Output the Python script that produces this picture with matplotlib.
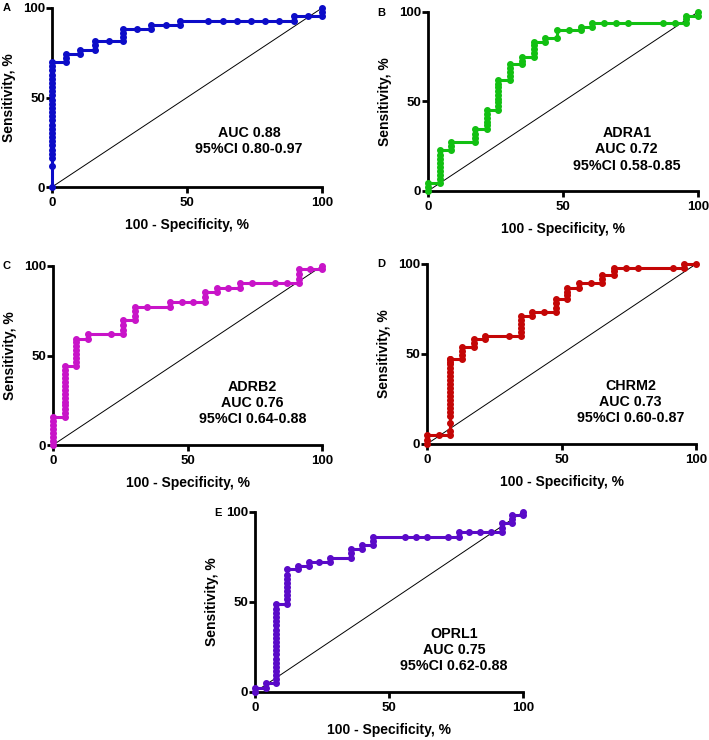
import matplotlib
matplotlib.use('Agg')
import matplotlib.pyplot as plt

plt.rcParams['font.family'] = ['Liberation Sans', 'DejaVu Sans']

# ---------------- data (100 - specificity, sensitivity) ----------------
a_fpr = [0, 0, 0, 0, 0, 0, 0, 0, 0, 0, 0, 0, 0, 0, 0, 0, 0, 0, 0, 0, 0, 0, 0, 0, 0, 0,
         5.3, 5.3, 5.3, 10.5, 10.5, 15.8, 15.8, 15.8, 21.1, 26.3, 26.3, 26.3, 26.3,
         31.6, 36.8, 36.8, 42.1, 47.4, 47.4, 57.9, 63.2, 68.4, 73.7, 78.9, 84.2,
         89.5, 89.5, 94.7, 100, 100, 100]
a_tpr = [0, 11.6, 16.3, 18.6, 20.9, 23.3, 25.6, 27.9, 30.2, 32.6, 34.9, 37.2, 39.5,
         41.9, 44.2, 46.5, 48.8, 51.2, 53.5, 55.8, 58.1, 60.5, 62.8, 65.1, 67.4, 69.8,
         69.8, 72.1, 74.4, 74.4, 76.7, 76.7, 79.1, 81.4, 81.4, 81.4, 83.7, 86.0, 88.4,
         88.4, 88.4, 90.7, 90.7, 90.7, 93.0, 93.0, 93.0, 93.0, 93.0, 93.0, 93.0,
         93.0, 95.3, 95.3, 95.3, 97.7, 100]

b_fpr = [0, 0, 0,
         4.35, 4.35, 4.35, 4.35, 4.35, 4.35, 4.35, 4.35, 4.35,
         8.7, 8.7, 8.7,
         17.4, 17.4, 17.4, 17.4,
         21.7, 21.7, 21.7, 21.7, 21.7, 21.7,
         26.1, 26.1, 26.1, 26.1, 26.1, 26.1, 26.1, 26.1, 26.1,
         30.4, 30.4, 30.4, 30.4, 30.4,
         34.8, 34.8, 34.8,
         39.1, 39.1, 39.1, 39.1, 39.1,
         43.5, 43.5, 47.8, 47.8, 52.2, 56.5, 56.5, 60.9, 60.9,
         65.2, 69.6, 73.9, 87.0, 91.3,
         95.7, 95.7, 95.7, 100, 100]
b_tpr = [0, 2.2, 4.4,
         4.4, 6.7, 8.9, 11.1, 13.3, 15.6, 17.8, 20.0, 22.8,
         22.8, 25.2, 27.5,
         27.5, 29.8, 32.1, 34.4,
         34.4, 36.6, 38.8, 41.0, 43.2, 45.3,
         45.3, 47.4, 49.5, 51.6, 53.7, 55.8, 57.9, 60.0, 62.0,
         62.0, 64.2, 66.4, 68.6, 70.8,
         70.8, 72.9, 75.0,
         75.0, 77.1, 79.2, 81.3, 83.4,
         83.4, 85.7, 85.7, 89.8, 89.8, 89.8, 91.8, 91.8, 93.9,
         93.9, 93.9, 93.9, 93.9, 93.9,
         93.9, 96.1, 98.0, 98.0, 100]

c_fpr = [0, 0, 0, 0, 0, 0, 0, 0,
         4.35, 4.35, 4.35, 4.35, 4.35, 4.35, 4.35, 4.35, 4.35, 4.35, 4.35, 4.35, 4.35, 4.35,
         8.7, 8.7, 8.7, 8.7, 8.7, 8.7, 8.7, 8.7,
         13.0, 13.0, 21.7,
         26.1, 26.1, 26.1, 26.1,
         30.4, 30.4, 30.4, 30.4,
         34.8, 43.5, 43.5, 47.8, 52.2,
         56.5, 56.5, 56.5, 60.9, 60.9, 65.2, 69.6, 69.6,
         73.9, 82.6, 87.0,
         91.3, 91.3, 91.3, 91.3, 95.7, 100, 100]
c_tpr = [0, 2.2, 4.4, 6.6, 8.8, 11.0, 13.2, 15.5,
         15.5, 17.7, 19.9, 22.1, 24.3, 26.5, 28.7, 30.9, 33.1, 35.3, 37.5, 39.7, 41.9, 44.1,
         44.1, 46.3, 48.5, 50.7, 52.9, 55.1, 57.3, 59.4,
         59.4, 61.8, 61.8,
         61.8, 64.5, 67.1, 69.8,
         69.8, 72.3, 74.8, 77.3,
         77.3, 77.3, 80.1, 80.1, 80.1,
         80.1, 82.8, 85.5, 85.5, 87.9, 87.9, 87.9, 90.3,
         90.3, 90.3, 90.3,
         90.3, 92.9, 95.5, 98.1, 98.1, 98.1, 100]

d_fpr = [0, 0, 0, 4.35,
         8.7, 8.7, 8.7, 8.7, 8.7, 8.7, 8.7, 8.7, 8.7, 8.7,
         8.7, 8.7, 8.7, 8.7, 8.7, 8.7, 8.7, 8.7, 8.7, 8.7,
         13.0, 13.0, 13.0, 13.0,
         17.4, 17.4, 17.4,
         21.7, 21.7, 30.4,
         34.8, 34.8, 34.8, 34.8, 34.8, 34.8,
         39.1, 39.1, 43.5,
         47.8, 47.8, 47.8, 47.8,
         52.2, 52.2, 52.2, 52.2,
         56.5, 56.5, 60.9,
         65.2, 65.2, 65.2,
         69.6, 69.6, 69.6,
         73.9, 78.3, 91.3, 95.7, 95.7, 100]
d_tpr = [0, 2.4, 4.8, 4.8,
         4.8, 7.0, 11.4, 15.8, 18.0, 20.2, 22.4, 24.6, 26.8, 29.0,
         31.2, 33.4, 35.6, 37.8, 40.0, 42.2, 44.4, 45.7, 47.0, 47.0,
         47.0, 49.3, 51.6, 53.9,
         53.9, 56.0, 58.1,
         58.1, 60.0, 60.0,
         60.0, 62.3, 64.6, 66.9, 69.1, 71.3,
         71.3, 73.5, 73.5,
         73.5, 75.8, 78.1, 80.4,
         80.4, 82.6, 84.7, 86.9,
         86.9, 89.3, 89.3,
         89.3, 91.6, 93.9,
         93.9, 95.9, 97.8,
         97.8, 97.8, 97.8, 97.8, 100, 100]

e_fpr = [0, 0, 4, 4,
         8, 8, 8, 8, 8, 8, 8, 8, 8, 8, 8, 8, 8, 8, 8, 8, 8, 8, 8, 8,
         12, 12, 12, 12, 12, 12, 12, 12, 12,
         16, 16, 20, 20, 24, 28, 28,
         36, 36, 36, 40, 40, 44, 44, 44,
         56, 60, 64, 72, 76, 76, 80, 84, 88,
         92, 92, 92, 96, 96, 96, 100, 100]
e_tpr = [0, 2.4, 2.4, 4.8,
         4.8, 7.1, 9.4, 11.7, 14.0, 16.3, 18.6, 20.9, 23.2, 25.5, 27.8, 30.1,
         32.4, 34.7, 37.0, 39.3, 41.6, 43.9, 46.2, 49.1,
         49.1, 51.4, 53.7, 56.0, 58.3, 60.6, 62.9, 65.2, 68.1,
         68.1, 70.0, 70.0, 72.2, 72.2, 72.2, 74.6,
         74.6, 77.0, 79.3, 79.3, 81.7, 81.7, 84.0, 86.3,
         86.3, 86.3, 86.3, 86.3, 86.3, 88.7, 88.7, 88.7, 88.7,
         88.7, 91.2, 93.7, 93.7, 96.0, 98.2, 98.2, 100]

letters = ['A', 'B', 'C', 'D', 'E']
genes = ['', 'ADRA1', 'ADRB2', 'CHRM2', 'OPRL1']
aucs = ['0.88', '0.72', '0.76', '0.73', '0.75']
cis = ['0.80-0.97', '0.58-0.85', '0.64-0.88', '0.60-0.87', '0.62-0.88']
tick_vals = [0, 50, 100]
tick_labels = ['0', '50', '100']

# ---------------- layout ----------------
W, H = 709, 740
fig = plt.figure(figsize=(W / 100, H / 100), dpi=100)

boxes = [(52, 322, 8, 187), (428, 698, 12, 191), (53, 322, 266, 445),
         (427, 696, 264, 444), (255, 523, 512, 692)]
colors = ['#0c0cc8', '#12c012', '#c814c8', '#c40606', '#5a0ac8']
letter_pos = [(7, 8), (381, 13), (6, 266), (381, 264), (218, 513)]
text_pos = [(73, 25.8), (73.6, 23.2), (74.2, 23.4), (75.7, 23.3), (74.3, 23.4)]
series = [(a_fpr, a_tpr), (b_fpr, b_tpr), (c_fpr, c_tpr), (d_fpr, d_tpr), (e_fpr, e_tpr)]

for i in range(5):
    l, r, t, b = boxes[i]
    ax = fig.add_axes([l / W, 1 - b / H, (r - l) / W, (b - t) / H])
    wpx, hpx = r - l, b - t
    ax.plot([0, 100], [0, 100], color='black', lw=0.7, zorder=2)
    fpr, tpr = series[i]
    ax.plot(fpr, tpr, color=colors[i], lw=2.2, marker='o', ms=4.0,
            clip_on=False, zorder=3)
    ax.set_xlim(0, 100)
    ax.set_ylim(0, 100)
    for s in ['top', 'right']:
        ax.spines[s].set_visible(False)
    for s in ['left', 'bottom']:
        ax.spines[s].set_linewidth(2.0)
        ax.spines[s].set_capstyle('projecting')
    ax.set_xticks(tick_vals)
    ax.set_xticklabels(tick_labels)
    ax.set_yticks(tick_vals)
    ax.set_yticklabels(tick_labels)
    ax.tick_params(direction='out', length=4, width=2.0, labelsize=9.5)
    ax.tick_params(axis='x', pad=3)
    ax.tick_params(axis='y', pad=1)
    for lab in ax.get_xticklabels() + ax.get_yticklabels():
        lab.set_fontweight('bold')
    ax.text(0.5, -38 / hpx, '100 - Specificity, %', transform=ax.transAxes,
            ha='center', va='center', fontsize=10, fontweight='bold')
    ax.text(-43 / wpx, 0.5, 'Sensitivity, %', transform=ax.transAxes,
            ha='center', va='center', rotation=90, fontsize=10, fontweight='bold')
    lines = []
    if genes[i]:
        lines.append(genes[i])
    lines.append('AUC ' + aucs[i])
    lines.append('95%CI ' + cis[i])
    tx, ty = text_pos[i]
    ax.text(tx, ty, '\n'.join(lines), ha='center', va='center', fontsize=10.3,
            fontweight='bold', linespacing=1.2)
    lx, ly = letter_pos[i]
    fig.text(lx / W, 1 - ly / H, letters[i], ha='center', va='center',
             fontsize=8, fontweight='bold')

fig.savefig('out.png', dpi=100)
